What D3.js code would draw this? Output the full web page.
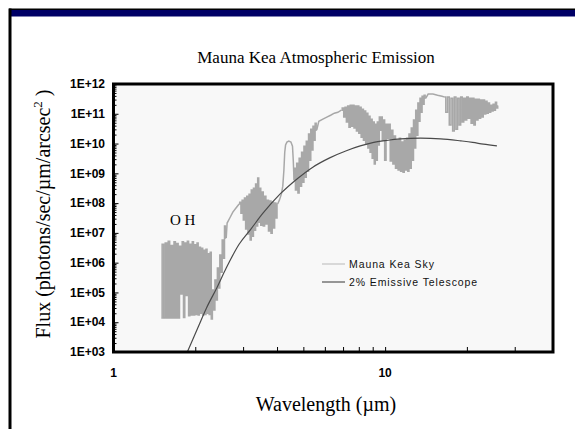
<!DOCTYPE html>
<html>
<head>
<meta charset="utf-8">
<script src="https://cdn.jsdelivr.net/npm/d3@7"></script>
<style>
  html, body { margin: 0; padding: 0; background: #fff; }
  svg { display: block; }
</style>
</head>
<body>
<svg id="chart" width="575" height="429"></svg>
<script>
// ---- chart text ----
const chartTitle = "Mauna Kea Atmospheric Emission";
const xAxisTitle = "Wavelength (\u00b5m)";
const seriesNames = ["Mauna Kea Sky", "2% Emissive Telescope"];
const bandLabel = "O H";

// ---- axis ticks ----
const xLabelTicks = [1, 10];
const xLabelText = ["1", "10"];
const xMinorTicks = [2, 3, 4, 5, 6, 7, 8, 9, 20, 30];
const yDecadeTicks = [1e3, 1e4, 1e5, 1e6, 1e7, 1e8, 1e9, 1e10, 1e11, 1e12];
const yTickText = ["1E+03", "1E+04", "1E+05", "1E+06", "1E+07", "1E+08", "1E+09", "1E+10", "1E+11", "1E+12"];

// ---- sky emission spectrum: wavelength (um) and log10 of flux ----
const skyWavelength = [
  // OH forest
  1.50,1.52,1.54,1.56,1.58,1.60,1.62,1.64,1.66,1.68,1.70,1.72,1.74,1.76,1.78,1.80,1.82,1.84,1.86,1.88,
  1.90,1.92,1.94,1.96,1.98,2.00,2.02,2.04,2.06,2.08,2.10,2.12,2.14,2.16,2.18,2.20,2.22,2.24,2.26,2.28,
  // K-band thermal rise
  2.30,2.325,2.35,2.375,2.40,2.425,2.45,2.475,2.50,2.525,2.55,2.575,2.60,
  2.62,2.68,2.75,2.82,2.90,
  // L band
  2.93,2.96,2.99,3.02,3.05,3.08,3.11,3.14,3.17,3.20,3.23,3.26,3.29,3.32,3.35,3.38,3.41,3.44,3.47,3.50,
  3.54,3.58,3.62,3.66,3.70,3.74,3.78,3.82,3.86,3.90,3.94,3.98,4.02,
  // CO2 peak
  4.08,4.15,4.20,4.24,4.27,4.30,4.35,4.42,4.50,4.56,4.59,4.62,
  // M band
  4.65,4.70,4.75,4.80,4.85,4.90,4.95,5.00,5.05,5.10,5.15,5.20,5.25,5.30,5.35,5.40,5.45,5.50,5.55,5.60,
  5.70,5.90,6.10,6.30,6.50,6.70,6.90,
  // 7-10 um
  7.00,7.08,7.16,7.24,7.32,7.40,7.48,7.56,7.64,7.72,7.80,7.88,7.96,8.04,8.12,8.20,8.28,8.36,8.44,8.52,
  8.60,8.68,8.76,8.84,8.92,9.00,9.08,9.16,9.24,9.32,9.40,9.48,9.56,9.64,9.72,9.80,
  // N band window
  9.90,10.02,10.14,10.26,10.38,10.50,10.62,10.74,10.86,10.98,11.10,11.22,11.34,11.46,11.58,11.70,11.82,11.94,
  12.06,12.18,12.30,12.42,12.54,12.66,12.78,12.90,13.02,13.14,13.26,13.38,13.50,13.62,13.74,13.86,13.98,14.10,
  14.4,15.0,15.6,16.2,16.6,
  // Q band
  16.85,17.10,17.35,17.60,17.85,18.10,18.35,18.60,18.85,19.10,19.35,19.60,19.85,20.10,20.35,20.60,20.85,21.10,21.35,
  21.60,21.85,22.10,22.35,22.60,22.85,23.10,23.35,23.60,23.85,24.10,24.35,24.60,24.85,25.10,25.35,25.60,25.85,26.10
];
const skyLogFlux = [
  4.14,6.62,4.14,6.66,4.14,6.72,4.14,6.58,4.14,6.70,4.14,6.64,4.14,6.55,4.95,6.70,4.16,6.66,4.90,6.72,
  4.22,6.62,4.24,6.70,4.24,6.60,4.26,6.66,4.24,6.52,4.30,6.48,4.24,6.42,4.26,6.45,4.30,6.30,4.26,6.35,
  4.11,5.08,4.41,5.42,4.75,5.82,5.15,6.26,5.68,6.76,6.15,7.23,6.83,
  7.33,7.50,7.70,7.83,7.97,
  8.03,7.66,8.10,7.43,8.17,7.13,8.23,6.96,8.30,6.76,8.44,6.89,8.50,7.09,8.64,7.23,8.84,7.36,8.50,7.26,
  8.37,7.23,8.23,7.30,8.10,7.06,8.07,6.99,8.03,7.16,8.00,7.50,7.97,
  8.10,8.30,8.57,9.11,9.71,9.95,10.05,10.08,10.05,9.91,9.44,8.77,
  9.17,8.44,9.34,8.34,9.51,8.57,9.71,8.70,9.91,8.87,10.08,9.07,10.32,9.44,10.48,9.78,10.58,10.11,10.68,10.45,
  10.75,10.82,10.89,10.95,11.02,11.05,11.12,
  11.19,10.89,11.22,10.72,11.26,10.55,11.29,10.58,11.29,10.52,11.26,10.42,11.26,10.35,11.22,10.21,11.15,10.11,11.09,9.98,
  11.02,9.85,10.92,9.71,10.82,9.51,10.72,9.31,10.65,9.44,10.72,9.95,10.89,10.45,10.89,10.11,
  10.79,9.44,10.65,10.18,10.65,9.41,10.45,9.31,10.25,9.17,10.11,9.11,10.18,9.07,10.05,9.04,10.11,9.11,
  10.18,9.07,10.32,9.17,10.52,9.44,10.79,9.85,11.12,10.28,11.36,10.75,11.52,11.05,11.59,11.32,11.62,11.52,
  11.66,11.66,11.62,11.59,11.56,
  11.05,11.56,10.62,11.52,10.42,11.56,10.48,11.52,10.62,11.56,10.72,11.52,10.79,11.56,10.85,11.52,10.68,11.52,10.62,
  11.49,10.79,11.49,10.85,11.46,10.89,11.46,10.99,11.42,11.02,11.36,11.05,11.29,11.09,11.32,11.12,11.39,11.19,11.26
];

// wavelength ranges where the sky lines are unresolved and drawn as a dense comb
const unresolvedBands = [[1.50, 2.60], [2.93, 4.02], [4.65, 5.60], [7.00, 9.80], [9.90, 14.10], [16.85, 26.10]];

// ---- 2% emissive telescope: wavelength (um) and log10 of flux ----
const telescopeWavelength = [1.87, 2.05, 2.2, 2.4, 2.6, 2.9, 3.2, 3.55, 4.1, 4.75, 5.4, 6.25, 7.2, 8.1, 9.0, 10, 11.4, 13.5, 16, 19, 21, 23, 25.8];
const telescopeLogFlux = [3.0, 3.84, 4.48, 5.15, 5.82, 6.62, 7.12, 7.66, 8.30, 8.82, 9.2, 9.52, 9.76, 9.92, 10.03, 10.1, 10.16, 10.18, 10.16, 10.09, 10.04, 9.98, 9.92];

// ---- build point lists ----
const skyPoints = skyWavelength.map((w, i) => ({ w, f: Math.pow(10, skyLogFlux[i]) }));
const telescopePoints = telescopeWavelength.map((w, i) => ({ w, f: Math.pow(10, telescopeLogFlux[i]) }));

const inBand = w => unresolvedBands.some(([a, b]) => w >= a - 1e-9 && w <= b + 1e-9);

// split the sky spectrum into resolved (plain line) and unresolved (comb) runs that share end points
const skyRuns = [];
skyPoints.forEach(p => {
  const comb = inBand(p.w);
  const last = skyRuns[skyRuns.length - 1];
  if (!last || last.comb !== comb) {
    skyRuns.push({ comb, pts: last ? [last.pts[last.pts.length - 1], p] : [p] });
  } else {
    last.pts.push(p);
  }
});

const svg = d3.select("#chart");

// page frame: navy header strip and left rule
svg.append("rect").attr("x", 9).attr("y", 9).attr("width", 566).attr("height", 7.5).attr("fill", "#000066");
svg.append("rect").attr("x", 9).attr("y", 8.5).attr("width", 566).attr("height", 1.5).attr("fill", "#000");
svg.append("rect").attr("x", 8.5).attr("y", 8.5).attr("width", 3).attr("height", 421).attr("fill", "#000");

// plot geometry
const plot = { left: 113.5, right: 553, top: 84, bottom: 352 };

const x = d3.scaleLog().domain([1, 41.5]).range([plot.left, plot.right]);
const y = d3.scaleLog().domain([1e3, 1e12]).range([plot.bottom, plot.top]);

// plot background
svg.append("rect")
  .attr("x", plot.left).attr("y", plot.top)
  .attr("width", plot.right - plot.left).attr("height", plot.bottom - plot.top)
  .attr("fill", "#f8f8f8");

svg.append("clipPath").attr("id", "plotClip")
  .append("rect")
  .attr("x", plot.left).attr("y", plot.top)
  .attr("width", plot.right - plot.left).attr("height", plot.bottom - plot.top);

// y axis: decade ticks with minor ticks, drawn inward
const yMinor = [];
yDecadeTicks.slice(0, -1).forEach(d => { for (let k = 2; k <= 9; k++) yMinor.push(d * k); });

const yAxisMinor = d3.axisRight(y).tickValues(yMinor).tickSize(3).tickFormat("");
const yAxisMajor = d3.axisRight(y).tickValues(yDecadeTicks).tickSize(5).tickFormat("");
[yAxisMinor, yAxisMajor].forEach(ax => {
  const g = svg.append("g").attr("transform", `translate(${plot.left},0)`).call(ax);
  g.select(".domain").remove();
  g.selectAll("line").attr("stroke", "#000").attr("stroke-width", 1);
});

// y tick labels
svg.append("g").selectAll("text").data(yDecadeTicks).join("text")
  .attr("x", 105).attr("y", d => y(d))
  .attr("dy", "0.35em")
  .attr("text-anchor", "end")
  .attr("font-family", "'Liberation Sans', Arial, sans-serif")
  .attr("font-weight", "bold").attr("font-size", 12)
  .attr("fill", "#000")
  .text((d, i) => yTickText[i]);

// x axis: minor ticks drawn inward from the bottom edge
const xAxisTicks = d3.axisTop(x).tickValues(xMinorTicks.concat([10])).tickSize(5).tickFormat("");
const gx = svg.append("g").attr("transform", `translate(0,${plot.bottom})`).call(xAxisTicks);
gx.select(".domain").remove();
gx.selectAll("line").attr("stroke", "#000").attr("stroke-width", 1);

svg.append("g").selectAll("text").data(xLabelTicks).join("text")
  .attr("x", d => x(d)).attr("y", 377)
  .attr("text-anchor", "middle")
  .attr("font-family", "'Liberation Sans', Arial, sans-serif")
  .attr("font-weight", "bold").attr("font-size", 12)
  .attr("fill", "#000")
  .text((d, i) => xLabelText[i]);

// series
const plainLine = d3.line().x(d => x(d.w)).y(d => y(d.f));
const combLine = d3.line().x(d => x(d.w)).y(d => y(d.f)).curve(d3.curveStep);
const smooth = d3.line().x(d => x(d.w)).y(d => y(d.f)).curve(d3.curveMonotoneX);

const plotArea = svg.append("g").attr("clip-path", "url(#plotClip)");
plotArea.append("g").selectAll("path").data(skyRuns).join("path")
  .attr("d", r => (r.comb ? combLine : plainLine)(r.pts))
  .attr("fill", "none")
  .attr("stroke", "#a8a8a8").attr("stroke-width", 1.5);
plotArea.append("path").datum(telescopePoints)
  .attr("d", smooth).attr("fill", "none")
  .attr("stroke", "#4a4a4a").attr("stroke-width", 1.2);

// plot frame
svg.append("rect")
  .attr("x", plot.left).attr("y", plot.top)
  .attr("width", plot.right - plot.left).attr("height", plot.bottom - plot.top)
  .attr("fill", "none").attr("stroke", "#000").attr("stroke-width", 3);

// band label
svg.append("text").attr("x", 170).attr("y", 225)
  .attr("font-family", "'Liberation Serif', 'Times New Roman', serif")
  .attr("font-size", 15).attr("fill", "#000")
  .text(bandLabel);

// legend
const legendColors = ["#c4c4c4", "#555"];
const legend = svg.append("g");
seriesNames.forEach((name, i) => {
  const ly = 264 + i * 18;
  legend.append("line").attr("x1", 322).attr("x2", 345).attr("y1", ly).attr("y2", ly)
    .attr("stroke", legendColors[i]).attr("stroke-width", 1.2);
  legend.append("text").attr("x", 349).attr("y", ly).attr("dy", "0.35em")
    .attr("font-family", "'Liberation Sans', Arial, sans-serif")
    .attr("font-size", 10.5).attr("letter-spacing", 0.9).attr("fill", "#111")
    .text(name);
});

// titles
svg.append("text").attr("x", 316).attr("y", 63)
  .attr("text-anchor", "middle")
  .attr("font-family", "'Liberation Serif', 'Times New Roman', serif")
  .attr("font-size", 17).attr("fill", "#000")
  .text(chartTitle);

svg.append("text").attr("x", 326).attr("y", 411)
  .attr("text-anchor", "middle")
  .attr("font-family", "'Liberation Serif', 'Times New Roman', serif")
  .attr("font-size", 20).attr("fill", "#000")
  .text(xAxisTitle);

const yTitle = svg.append("text")
  .attr("transform", "translate(50,214) rotate(-90)")
  .attr("text-anchor", "middle")
  .attr("font-family", "'Liberation Serif', 'Times New Roman', serif")
  .attr("font-size", 20).attr("fill", "#000");
yTitle.append("tspan").text("Flux (photons/sec/\u00b5m/arcsec");
yTitle.append("tspan").attr("font-size", 13).attr("dy", -8).text("2");
yTitle.append("tspan").attr("dy", 8).text(" )");
</script>
</body>
</html>
